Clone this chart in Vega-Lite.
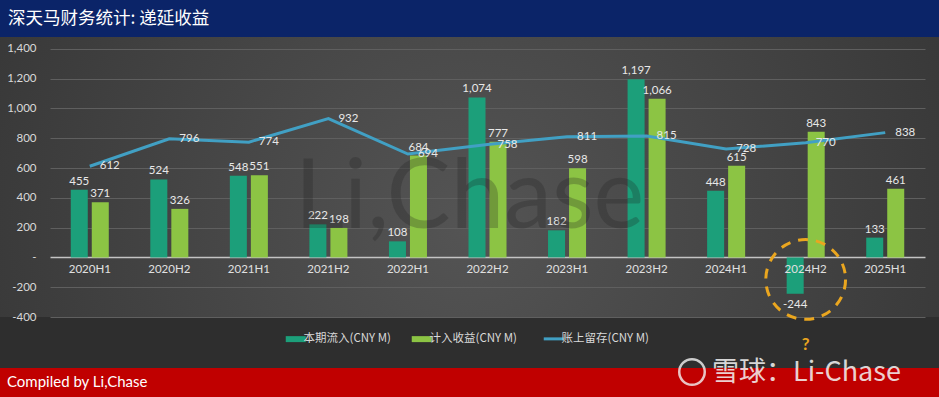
{
  "$schema": "https://vega.github.io/schema/vega-lite/v6.json",
  "padding": 0,
  "spacing": 0,
  "columns": 1,
  "align": "none",
  "bounds": "full",
  "background": "#2e2e2e",
  "resolve": {"scale": {"color": "independent"}, "legend": {"color": "independent"}},
  "config": {
    "view": {"stroke": null},
    "locale": {"number": {"decimal": ".", "thousands": ",", "grouping": [3], "currency": ["$", ""], "minus": "-"}},
    "legend": {"layout": {"bottom": {"anchor": "middle"}}}
  },
  "datasets": {
    "fin": [
      {"period": "2020H1", "series": "本期流入(CNY M)", "value": 455},
      {"period": "2020H2", "series": "本期流入(CNY M)", "value": 524},
      {"period": "2021H1", "series": "本期流入(CNY M)", "value": 548},
      {"period": "2021H2", "series": "本期流入(CNY M)", "value": 222},
      {"period": "2022H1", "series": "本期流入(CNY M)", "value": 108},
      {"period": "2022H2", "series": "本期流入(CNY M)", "value": 1074},
      {"period": "2023H1", "series": "本期流入(CNY M)", "value": 182},
      {"period": "2023H2", "series": "本期流入(CNY M)", "value": 1197},
      {"period": "2024H1", "series": "本期流入(CNY M)", "value": 448},
      {"period": "2024H2", "series": "本期流入(CNY M)", "value": -244},
      {"period": "2025H1", "series": "本期流入(CNY M)", "value": 133},
      {"period": "2020H1", "series": "计入收益(CNY M)", "value": 371},
      {"period": "2020H2", "series": "计入收益(CNY M)", "value": 326},
      {"period": "2021H1", "series": "计入收益(CNY M)", "value": 551},
      {"period": "2021H2", "series": "计入收益(CNY M)", "value": 198},
      {"period": "2022H1", "series": "计入收益(CNY M)", "value": 684},
      {"period": "2022H2", "series": "计入收益(CNY M)", "value": 777},
      {"period": "2023H1", "series": "计入收益(CNY M)", "value": 598},
      {"period": "2023H2", "series": "计入收益(CNY M)", "value": 1066},
      {"period": "2024H1", "series": "计入收益(CNY M)", "value": 615},
      {"period": "2024H2", "series": "计入收益(CNY M)", "value": 843},
      {"period": "2025H1", "series": "计入收益(CNY M)", "value": 461},
      {"period": "2020H1", "series": "账上留存(CNY M)", "value": 612},
      {"period": "2020H2", "series": "账上留存(CNY M)", "value": 796},
      {"period": "2021H1", "series": "账上留存(CNY M)", "value": 774},
      {"period": "2021H2", "series": "账上留存(CNY M)", "value": 932},
      {"period": "2022H1", "series": "账上留存(CNY M)", "value": 694},
      {"period": "2022H2", "series": "账上留存(CNY M)", "value": 758},
      {"period": "2023H1", "series": "账上留存(CNY M)", "value": 811},
      {"period": "2023H2", "series": "账上留存(CNY M)", "value": 815},
      {"period": "2024H1", "series": "账上留存(CNY M)", "value": 728},
      {"period": "2024H2", "series": "账上留存(CNY M)", "value": 770},
      {"period": "2025H1", "series": "账上留存(CNY M)", "value": 838}
    ]
  },
  "concat": [
    {
      "width": 939,
      "height": 37,
      "view": {"fill": "#0b2468", "stroke": null},
      "data": {"values": [{"t": "深天马财务统计: 递延收益"}]},
      "mark": {"type": "text", "align": "left", "baseline": "middle", "font": "Noto Sans CJK SC", "fontSize": 17.5, "color": "#ffffff"},
      "encoding": {"text": {"field": "t"}, "x": {"value": 8}, "y": {"value": 19}}
    },
    {
      "width": 939,
      "height": 280,
      "view": {"stroke": null, "fill": {"gradient": "radial", "x1": 0.5, "y1": 0.55, "r1": 0, "x2": 0.5, "y2": 0.55, "r2": 0.75, "stops": [{"offset": 0, "color": "#545454"}, {"offset": 1, "color": "#2e2e2e"}]}},
      "data": {"name": "fin"},
      "encoding": {
        "y": {
          "field": "value", "type": "quantitative",
          "scale": {"domain": [-400, 1480], "nice": false, "zero": false},
          "axis": {
            "values": [-400, -200, 0, 200, 400, 600, 800, 1000, 1200, 1400],
            "format": ",.0f",
            "labelExpr": "datum.value === 0 ? '-' : datum.label",
            "title": null, "domain": false, "ticks": false, "grid": true,
            "gridColor": {"condition": {"test": "datum.value === 0", "value": "#c4c4c4"}, "value": "#5f5f5f"},
            "gridWidth": {"condition": {"test": "datum.value === 0", "value": 1.5}, "value": 1},
            "labelColor": "#d9d9d9", "labelFont": "Lato", "labelFontSize": 11.5,
            "labelAlign": "right", "labelPadding": -36
          }
        }
      },
      "layer": [
        {
          "transform": [{"filter": "datum.series !== '账上留存(CNY M)'"}],
          "mark": {"type": "bar"},
          "encoding": {
            "x": {"field": "period", "type": "nominal", "sort": null, "scale": {"range": [50, 925], "paddingInner": 0, "paddingOuter": 0}, "axis": null},
            "xOffset": {"field": "series", "type": "nominal", "sort": null, "scale": {"paddingInner": 0.19, "paddingOuter": 0.988}},
            "color": {
              "field": "series", "type": "nominal",
              "scale": {"domain": ["本期流入(CNY M)", "计入收益(CNY M)", "账上留存(CNY M)"], "range": ["#1c9f7a", "#8cc444", "#41a0c4"]},
              "legend": {
                "title": null, "orient": "bottom", "direction": "horizontal",
                "labelColor": "#d9d9d9", "labelFontSize": 11.5, "labelFont": "Noto Sans CJK SC",
                "symbolSize": 400, "columnPadding": 20, "labelOffset": 2, "padding": 5, "offset": 11,
                "encode": {"symbols": {"update": {
                  "shape": {"signal": "datum.value === '账上留存(CNY M)' ? 'stroke' : 'M-1,-0.3H1V0.3H-1Z'"},
                  "fill": {"signal": "datum.value === '账上留存(CNY M)' ? 'transparent' : scale('color', datum.value)"},
                  "stroke": {"signal": "scale('color', datum.value)"},
                  "strokeWidth": {"signal": "datum.value === '账上留存(CNY M)' ? 3 : 0"},
                  "opacity": {"value": 1}
                }}}
              }
            }
          }
        },
        {
          "transform": [{"filter": "datum.series === '账上留存(CNY M)'"}],
          "mark": {"type": "line", "strokeWidth": 3},
          "encoding": {
            "x": {"field": "period", "type": "nominal", "sort": null},
            "color": {"field": "series", "type": "nominal"}
          }
        },
        {
          "transform": [{"filter": "datum.series !== '账上留存(CNY M)' && datum.value >= 0"}],
          "mark": {"type": "text", "baseline": "bottom", "dy": -3, "font": "Lato", "fontSize": 11.5, "color": "#e8e8e8"},
          "encoding": {
            "x": {"field": "period", "type": "nominal", "sort": null},
            "xOffset": {"field": "series", "type": "nominal", "sort": null},
            "text": {"field": "value", "type": "quantitative", "format": ",.0f"}
          }
        },
        {
          "transform": [{"filter": "datum.series !== '账上留存(CNY M)' && datum.value < 0"}],
          "mark": {"type": "text", "baseline": "top", "dy": 5, "font": "Lato", "fontSize": 11.5, "color": "#e8e8e8"},
          "encoding": {
            "x": {"field": "period", "type": "nominal", "sort": null},
            "xOffset": {"field": "series", "type": "nominal", "sort": null},
            "text": {"field": "value", "type": "quantitative", "format": ",.0f"}
          }
        },
        {
          "transform": [{"filter": "datum.series === '账上留存(CNY M)'"}],
          "mark": {"type": "text", "align": "left", "baseline": "middle", "dx": 10, "font": "Lato", "fontSize": 11.5, "color": "#e8e8e8"},
          "encoding": {
            "x": {"field": "period", "type": "nominal", "sort": null},
            "text": {"field": "value", "type": "quantitative", "format": ",.0f"}
          }
        },
        {
          "transform": [{"filter": "datum.series === '账上留存(CNY M)'"}],
          "mark": {"type": "text", "baseline": "middle", "dy": 13, "font": "Lato", "fontSize": 11.5, "color": "#e0e0e0"},
          "encoding": {
            "x": {"field": "period", "type": "nominal", "sort": null},
            "y": {"datum": 0},
            "text": {"field": "period"}
          }
        },
        {
          "data": {"values": [{"period": "2022H2", "value": 390, "t": "Li,Chase"}]},
          "mark": {"type": "text", "align": "center", "baseline": "middle", "dx": -18, "font": "Lato", "fontSize": 96, "color": "#1e1e1e", "opacity": 0.25},
          "encoding": {
            "x": {"field": "period", "type": "nominal", "sort": null},
            "text": {"field": "t"}
          }
        },
        {
          "data": {"values": [{"period": "2024H2", "value": -148}]},
          "mark": {"type": "point", "shape": "circle", "size": 6362, "filled": false, "stroke": "#eaa61f", "strokeWidth": 3, "strokeDash": [10, 8], "opacity": 1},
          "encoding": {
            "x": {"field": "period", "type": "nominal", "sort": null}
          }
        },
        {
          "data": {"values": [{"period": "2024H2", "value": -148, "q": "?"}]},
          "mark": {"type": "text", "baseline": "middle", "dy": 66, "font": "Lato", "fontSize": 17, "fontWeight": "bold", "color": "#eaa61f"},
          "encoding": {
            "x": {"field": "period", "type": "nominal", "sort": null},
            "text": {"field": "q"}
          }
        }
      ]
    },
    {
      "width": 939,
      "height": 34,
      "view": {"fill": "#c00000", "stroke": null},
      "data": {"values": [{"t": "Compiled by Li,Chase", "k": "a"}, {"t": "雪球：Li-Chase", "k": "b"}, {"t": "", "k": "c"}]},
      "layer": [
        {
          "transform": [{"filter": "datum.k === 'a'"}],
          "mark": {"type": "text", "align": "left", "baseline": "middle", "font": "Lato", "fontSize": 15, "color": "#ffffff"},
          "encoding": {"text": {"field": "t"}, "x": {"value": 7}, "y": {"value": 14}}
        },
        {
          "transform": [{"filter": "datum.k === 'b'"}],
          "mark": {"type": "text", "align": "left", "baseline": "middle", "font": "Noto Sans CJK SC", "fontSize": 27, "color": "#f4f4f4", "opacity": 0.85},
          "encoding": {"text": {"field": "t"}, "x": {"value": 712}, "y": {"value": 5}}
        },
        {
          "transform": [{"filter": "datum.k === 'c'"}],
          "mark": {"type": "point", "shape": "circle", "size": 650, "filled": false, "stroke": "#f4f4f4", "strokeWidth": 2.5, "opacity": 0.8},
          "encoding": {"x": {"value": 692}, "y": {"value": 4}}
        }
      ]
    }
  ]
}
